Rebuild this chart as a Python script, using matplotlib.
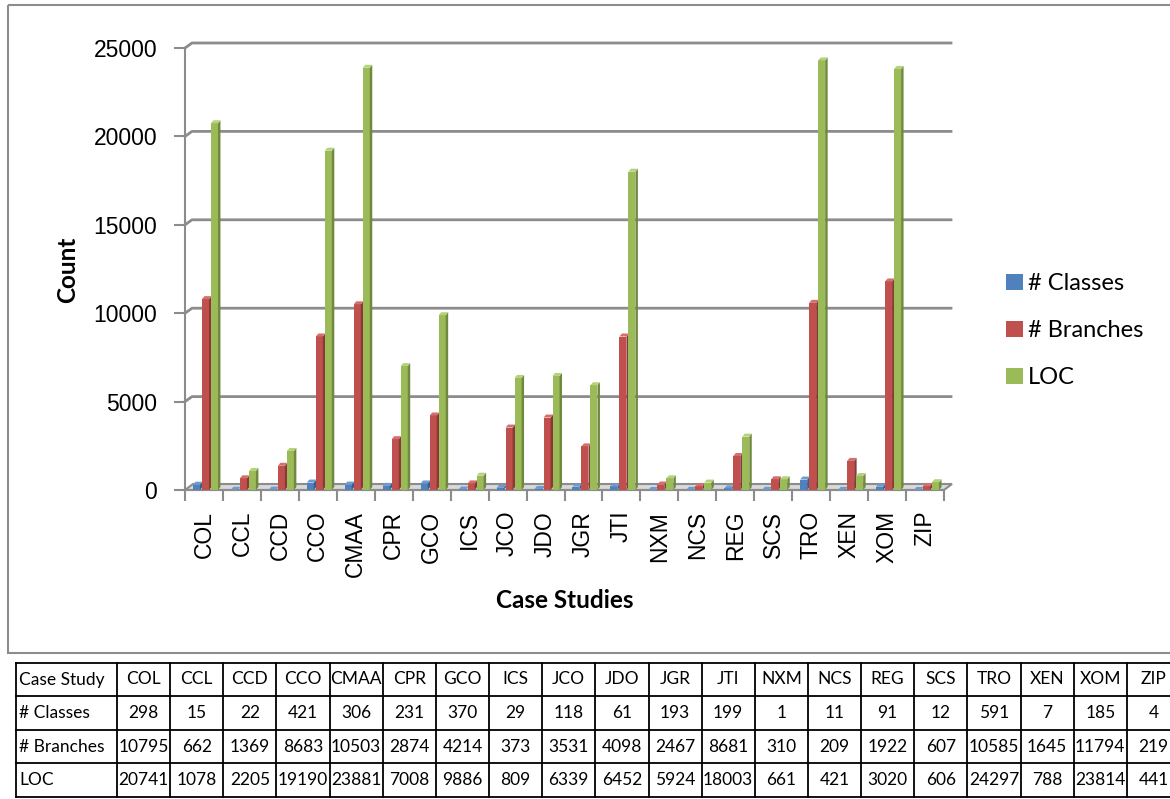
import matplotlib
matplotlib.use('Agg')
import matplotlib.pyplot as plt
from matplotlib.patches import Polygon, Rectangle
import numpy as np

# case study data
studies = ['COL', 'CCL', 'CCD', 'CCO', 'CMAA', 'CPR', 'GCO', 'ICS', 'JCO', 'JDO',
           'JGR', 'JTI', 'NXM', 'NCS', 'REG', 'SCS', 'TRO', 'XEN', 'XOM', 'ZIP']
classes = [298, 15, 22, 421, 306, 231, 370, 29, 118, 61,
           193, 199, 1, 11, 91, 12, 591, 7, 185, 4]
branches = [10795, 662, 1369, 8683, 10503, 2874, 4214, 373, 3531, 4098,
            2467, 8681, 310, 209, 1922, 607, 10585, 1645, 11794, 219]
loc = [20741, 1078, 2205, 19190, 23881, 7008, 9886, 809, 6339, 6452,
       5924, 18003, 661, 421, 3020, 606, 24297, 788, 23814, 441]
series_names = ['# Classes', '# Branches', 'LOC']
row_names = ['Case Study', '# Classes', '# Branches', 'LOC']
y_ticks = [0, 5000, 10000, 15000, 20000, 25000]

face = ['#4F81BD', '#C0504D', '#9BBB59']
side = ['#385D8A', '#8C3836', '#71893F']
top = ['#6F9AD0', '#D46F6C', '#B3D27A']
gray = '#8C8C8C'

W, H = 1170, 799
fig = plt.figure(figsize=(W / 100, H / 100), dpi=100)

# pixel-space layer for frame, titles and table
bg = fig.add_axes([0, 0, 1, 1], zorder=0)
bg.set_xlim(0, W)
bg.set_ylim(H, 0)
bg.axis('off')
bg.add_patch(Rectangle((8, 5), W, 648, fill=False, ec=gray, lw=1.5))

ax = fig.add_axes([185 / W, (H - 490) / H, 759 / W, 442 / H], zorder=1)
ax.patch.set_alpha(0)
n = len(studies)
ax.set_xlim(-0.5, n - 0.5)
ax.set_ylim(0, 25000)

px_x = 759 / n            # pixels per category
px_y = 442 / 25000        # pixels per count unit

# back wall gridlines
wdx, wdy = 7 / px_x, 5 / px_y
for t in y_ticks[1:]:
    ax.plot([-0.5, -0.5 + wdx, n - 0.5 + wdx], [t, t + wdy, t + wdy],
            color=gray, lw=2, clip_on=False, zorder=1)

# floor
fdx, fdy = 8 / px_x, 6 / px_y
ax.add_patch(Polygon([(-0.5, 0), (n - 0.5, 0), (n - 0.5 + fdx, fdy), (-0.5 + fdx, fdy)],
                     closed=True, fc='#D9D9D9', ec=gray, lw=1.5, clip_on=False, zorder=2))

# 3d-ish columns
bw = 7 / px_x
step = 9 / px_x
ddx, ddy = 2.5 / px_x, 3 / px_y
x = np.arange(n)
handles = []
for k, vals in enumerate([classes, branches, loc]):
    xl = x - 0.29 + k * step
    b = ax.bar(xl, vals, width=bw, align='edge', color=face[k], lw=0, zorder=3 + k)
    handles.append(b)
    for xi, v in zip(xl, vals):
        ax.add_patch(Polygon([(xi + bw, 0), (xi + bw + ddx, ddy), (xi + bw + ddx, v + ddy), (xi + bw, v)],
                             closed=True, fc=side[k], lw=0, clip_on=False, zorder=3 + k))
        ax.add_patch(Polygon([(xi, v), (xi + bw, v), (xi + bw + ddx, v + ddy), (xi + ddx, v + ddy)],
                             closed=True, fc=top[k], lw=0, clip_on=False, zorder=3 + k))

ax.set_yticks(y_ticks)
ax.set_yticklabels([str(t) for t in y_ticks], fontsize=16.5, family='Liberation Sans')
ax.tick_params(axis='y', length=8, width=1.5, color=gray, pad=12)
ax.set_xticks(x)
ax.set_xticklabels(studies, rotation=90, fontsize=16.5, family='Liberation Sans')
ax.set_xticks(np.arange(-0.5, n), minor=True)
ax.tick_params(axis='x', which='major', length=0, pad=15)
ax.tick_params(axis='x', which='minor', length=8, width=1.5, color=gray)
for s in ['top', 'right']:
    ax.spines[s].set_visible(False)
for s in ['left', 'bottom']:
    ax.spines[s].set_color(gray)
    ax.spines[s].set_linewidth(1.5)

bg.text(68, 270, 'Count', rotation=90, ha='center', va='center',
        fontsize=17.5, fontweight='bold', family='Lato')
bg.text(565, 601, 'Case Studies', ha='center', va='center',
        fontsize=17.5, fontweight='bold', family='Lato')

fig.legend(handles, series_names, loc='upper left', bbox_to_anchor=(985 / W, 1 - 252 / H),
           frameon=False, prop={'family': 'Lato', 'size': 17},
           handlelength=0.7, handleheight=0.7, handletextpad=0.2, labelspacing=1.1)

# data table under the chart
col_w = 53.15
xs = [16, 117] + [117 + col_w * (i + 1) for i in range(n)]
ys = [663, 696, 730, 763, 797]
for yy in ys:
    bg.plot([xs[0], xs[-1]], [yy, yy], color='black', lw=1.3)
for xx in xs:
    bg.plot([xx, xx], [ys[0], ys[-1]], color='black', lw=1.3)

rows = [studies, classes, branches, loc]
for r, (name, vals) in enumerate(zip(row_names, rows)):
    yc = (ys[r] + ys[r + 1]) / 2
    bg.text(19, yc, name, ha='left', va='center', fontsize=12.5, family='Lato')
    for c, v in enumerate(vals):
        xc = (xs[c + 1] + xs[c + 2]) / 2
        bg.text(xc, yc, str(v), ha='center', va='center', fontsize=12.5, family='Lato')

fig.savefig('out.png', dpi=100)
